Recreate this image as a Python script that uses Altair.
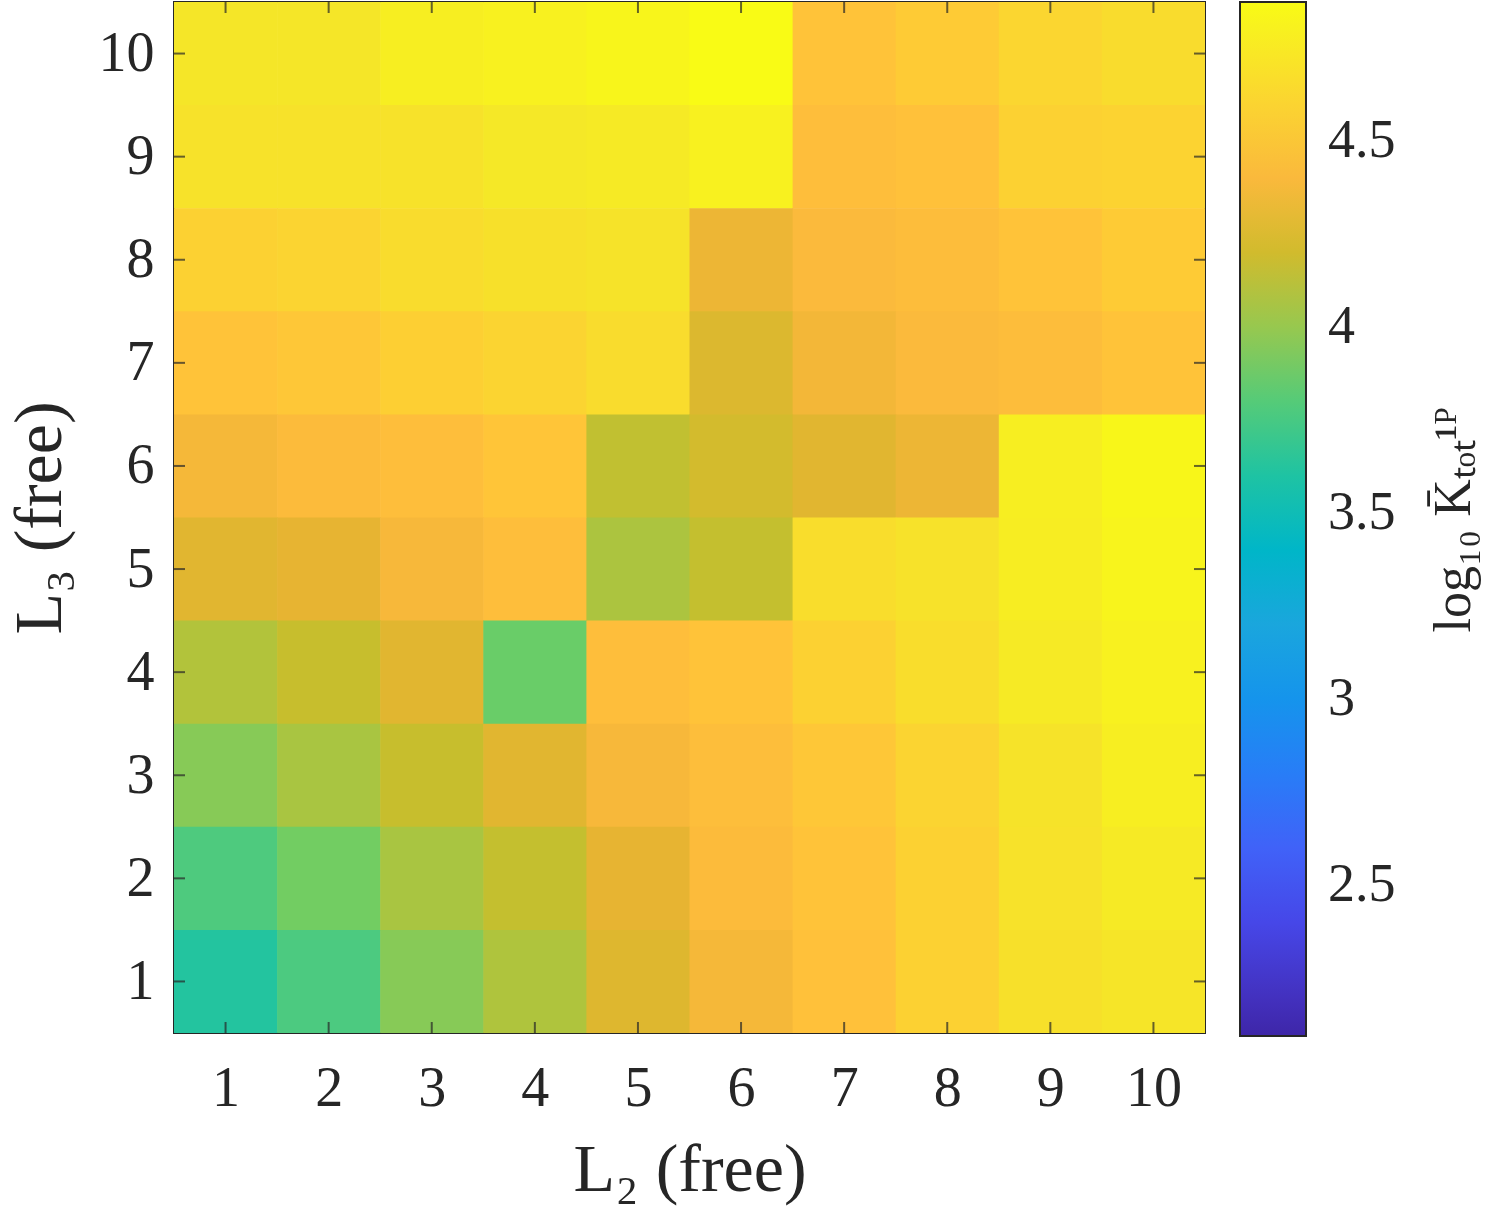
import altair as alt
import pandas as pd

L2_ticks = [1, 2, 3, 4, 5, 6, 7, 8, 9, 10]
L3_ticks = [1, 2, 3, 4, 5, 6, 7, 8, 9, 10]

# values per row, L3 = 10 (top) ... 1 (bottom); columns L2 = 1..10
row_L3_10 = [4.72, 4.72, 4.78, 4.80, 4.83, 4.87, 4.51, 4.55, 4.61, 4.65]
row_L3_9 = [4.69, 4.69, 4.69, 4.73, 4.75, 4.80, 4.47, 4.50, 4.58, 4.59]
row_L3_8 = [4.58, 4.60, 4.65, 4.68, 4.70, 4.33, 4.41, 4.45, 4.51, 4.55]
row_L3_7 = [4.51, 4.53, 4.57, 4.60, 4.65, 4.25, 4.36, 4.41, 4.45, 4.51]
row_L3_6 = [4.37, 4.43, 4.47, 4.52, 4.14, 4.21, 4.27, 4.33, 4.78, 4.84]
row_L3_5 = [4.27, 4.30, 4.38, 4.47, 4.07, 4.15, 4.66, 4.69, 4.77, 4.82]
row_L3_4 = [4.09, 4.16, 4.27, 3.88, 4.47, 4.51, 4.58, 4.66, 4.75, 4.80]
row_L3_3 = [3.96, 4.06, 4.16, 4.27, 4.38, 4.46, 4.53, 4.60, 4.70, 4.78]
row_L3_2 = [3.77, 3.91, 4.06, 4.15, 4.30, 4.43, 4.51, 4.58, 4.69, 4.75]
row_L3_1 = [3.62, 3.76, 3.96, 4.08, 4.26, 4.37, 4.50, 4.58, 4.68, 4.71]

rows = {10: row_L3_10, 9: row_L3_9, 8: row_L3_8, 7: row_L3_7, 6: row_L3_6,
        5: row_L3_5, 4: row_L3_4, 3: row_L3_3, 2: row_L3_2, 1: row_L3_1}

records = []
for l3, vals in rows.items():
    for l2, v in zip(L2_ticks, vals):
        records.append({"L2": l2, "L3": l3, "v": v})
df = pd.DataFrame(records)

# colour bar limits and parula-like colormap
cmin, cmax = 2.095, 4.873
cb_ticks = [2.5, 3, 3.5, 4, 4.5]
cb_title = "log₁₀ K̄ₜₒₜ¹ᴾ"
stop_pos = [0.0, 0.10, 0.20, 0.30, 0.40, 0.46, 0.50, 0.58, 0.65, 0.685, 0.744,
            0.792, 0.828, 0.864, 0.896, 0.944, 1.0]
stop_col = ["#3e26a8", "#4743e6", "#3f68fb", "#2c8cef", "#1ca6dc", "#05b4cc",
            "#1ebcb8", "#40c88a", "#6ecd64", "#96c850", "#c8be2d", "#e6b432",
            "#fab93c", "#ffc03a", "#fcd232", "#f5e628", "#f9fb14"]
cdom = [cmin + p * (cmax - cmin) for p in stop_pos]

FONT = "Liberation Serif"
INK = "#262626"

xscale = alt.Scale(domain=[0.5, 10.5], nice=False, zero=False)
yscale = alt.Scale(domain=[0.5, 10.5], nice=False, zero=False)
cscale = alt.Scale(type="linear", domain=cdom, range=stop_col, clamp=True)

# cells span [i-0.5, i+0.5]; a hair of overlap hides anti-aliasing seams
heat = alt.Chart(df).transform_calculate(
    x0="datum.L2 - 0.5", x1="datum.L2 + 0.506",
    y0="datum.L3 - 0.506", y1="datum.L3 + 0.5",
).mark_rect(clip=True).encode(
    x=alt.X("x0:Q", scale=xscale,
            axis=alt.Axis(values=L2_ticks, title="L₂ (free)", format="d",
                          labelPadding=28, titlePadding=20)),
    x2="x1:Q",
    y=alt.Y("y0:Q", scale=yscale,
            axis=alt.Axis(values=L3_ticks, title="L₃ (free)", format="d",
                          labelPadding=20, titlePadding=24)),
    y2="y1:Q",
    color=alt.Color("v:Q", scale=cscale,
                    legend=alt.Legend(
                        type="gradient", title=None, values=cb_ticks,
                        format="~g",
                        orient="right", direction="vertical", offset=35,
                        padding=0, gradientLength=1034, gradientThickness=66,
                        gradientStrokeColor=INK, gradientStrokeWidth=2,
                        labelFont=FONT, labelFontSize=54, labelColor=INK,
                        labelOffset=22, labelOverlap=False)),
)

tx = pd.DataFrame({"p": L2_ticks})
ty = pd.DataFrame({"p": L3_ticks})

tick_bottom = alt.Chart(tx).mark_tick(orient="vertical", size=22, thickness=2,
                                      color=INK, clip=True).encode(
    x=alt.X("p:Q", scale=xscale), y=alt.datum(0.5, scale=yscale))
tick_top = alt.Chart(tx).mark_tick(orient="vertical", size=22, thickness=2,
                                   color=INK, clip=True).encode(
    x=alt.X("p:Q", scale=xscale), y=alt.datum(10.5, scale=yscale))
tick_left = alt.Chart(ty).mark_tick(orient="horizontal", size=22, thickness=2,
                                    color=INK, clip=True).encode(
    y=alt.Y("p:Q", scale=yscale), x=alt.datum(0.5, scale=xscale))
tick_right = alt.Chart(ty).mark_tick(orient="horizontal", size=22, thickness=2,
                                     color=INK, clip=True).encode(
    y=alt.Y("p:Q", scale=yscale), x=alt.datum(10.5, scale=xscale))

cb_label = alt.Chart(pd.DataFrame({"t": [cb_title]})).mark_text(
    angle=270, font=FONT, fontSize=52, color=INK, align="center",
    baseline="middle").encode(
    text="t:N", x=alt.value(1280), y=alt.value(518))

chart = alt.layer(heat, tick_bottom, tick_top, tick_left, tick_right,
                  cb_label).properties(
    width=1031, height=1031,
    autosize=alt.AutoSizeParams(type="none"),
    padding={"left": 174, "top": 2, "right": 283, "bottom": 179},
).configure(
    background="white",
).configure_view(
    stroke=INK, strokeWidth=2,
).configure_axis(
    domain=False, ticks=False, grid=False,
    labelFont=FONT, labelFontSize=56, labelColor=INK,
    titleFont=FONT, titleFontSize=68, titleColor=INK, titleFontWeight="normal",
)

chart.save("out.html", embed_options={"renderer": "svg", "actions": False})
